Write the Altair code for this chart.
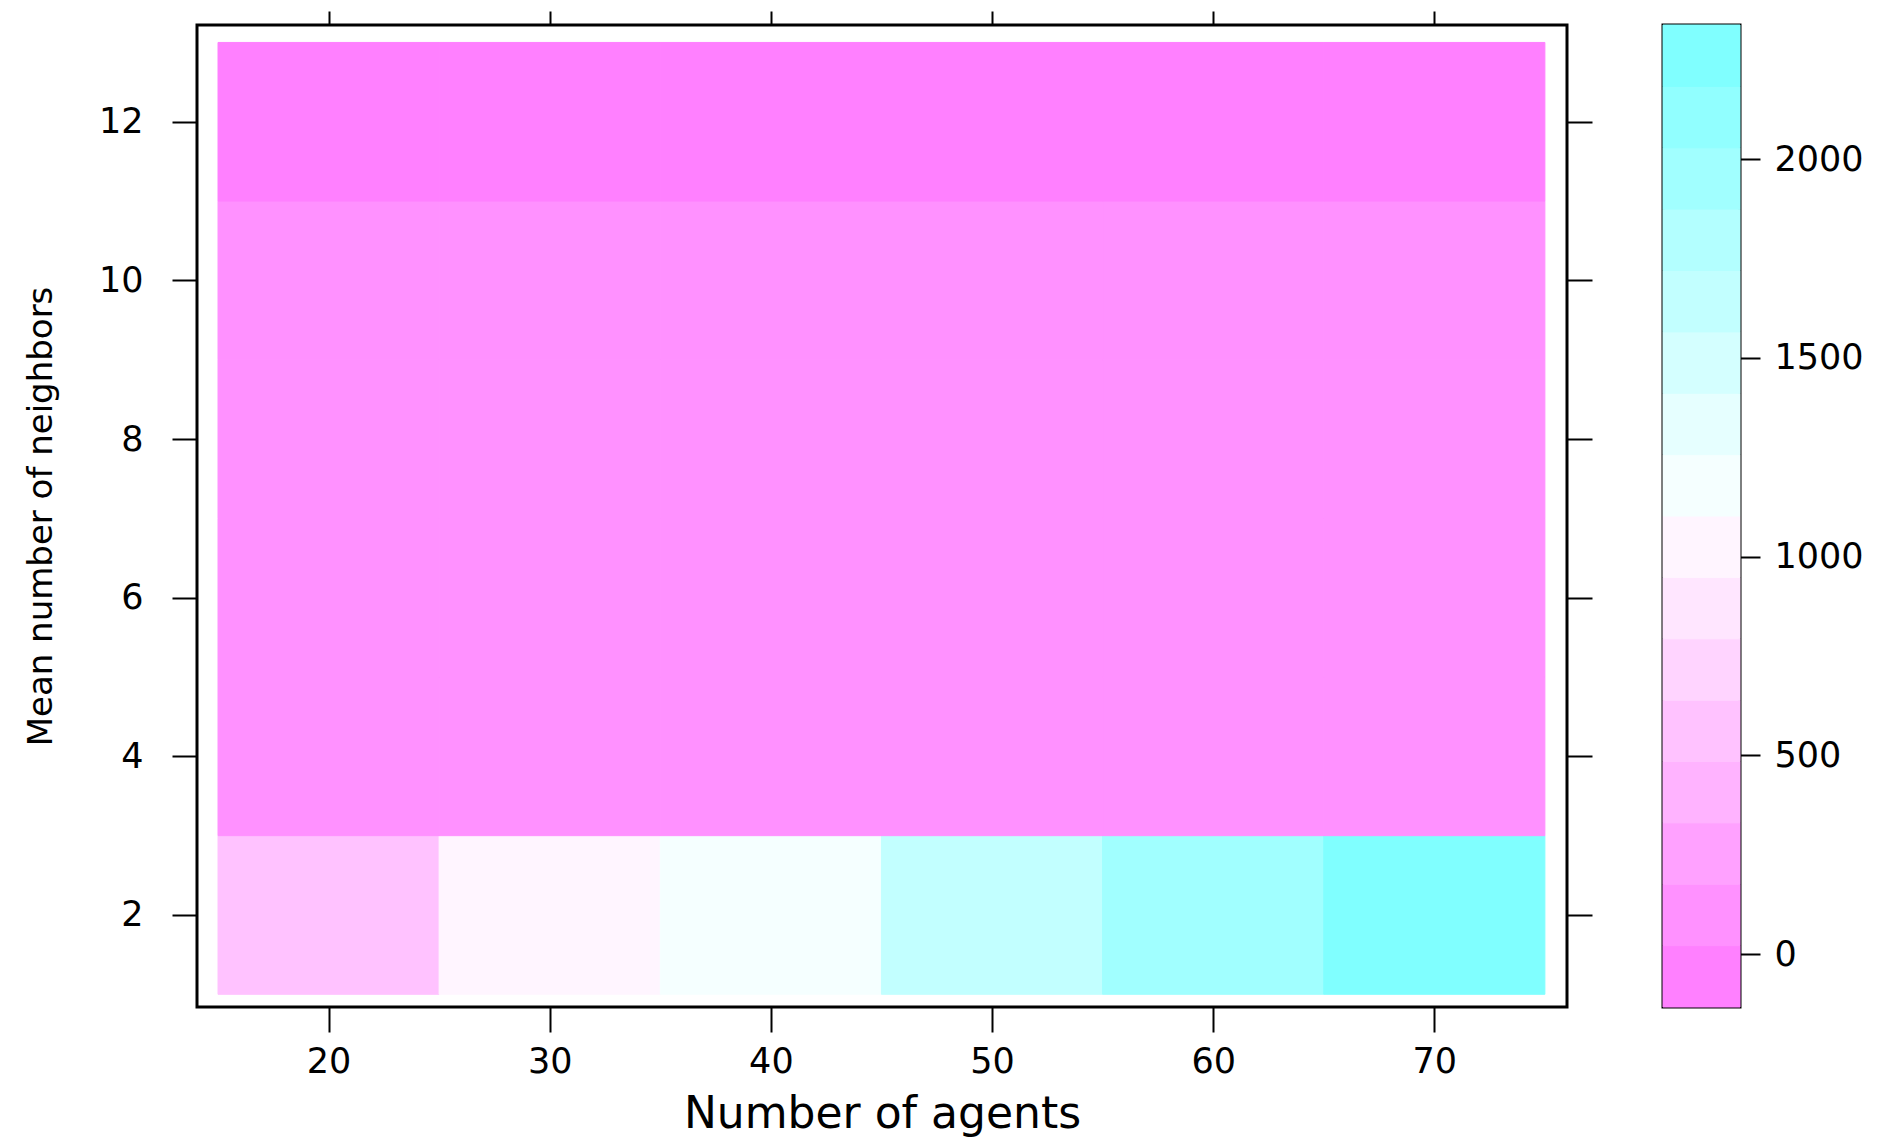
import altair as alt
import pandas as pd

# ---- data ----
agents = [20, 30, 40, 50, 60, 70]
neighbors = [2, 4, 6, 8, 10, 12]
# one list per neighbors value (rows), one entry per agents value (columns)
z_n2 = [570, 1030, 1190, 1650, 1960, 2185]
z_n4 = [100, 100, 100, 100, 100, 100]
z_n6 = [100, 100, 100, 100, 100, 100]
z_n8 = [100, 100, 100, 100, 100, 100]
z_n10 = [100, 100, 100, 100, 100, 100]
z_n12 = [10, 10, 10, 10, 10, 10]
rows = [z_n2, z_n4, z_n6, z_n8, z_n10, z_n12]

# colour-key breaks (16 bands) and lattice's rev(cm.colors) band colours
breaks = [-133.0, 21.4, 175.8, 330.2, 484.6, 639.0, 793.4, 947.8, 1102.2,
          1256.6, 1411.0, 1565.4, 1719.8, 1874.2, 2028.6, 2183.0, 2337.4]
band_colors = ["#FF80FF", "#FF91FF", "#FFA1FF", "#FFB3FF", "#FFC2FF", "#FFD4FF",
               "#FFE6FF", "#FFF5FF", "#F5FFFF", "#E6FFFF", "#D4FFFF", "#C2FFFF",
               "#B3FFFF", "#A1FFFF", "#91FFFF", "#80FFFF"]
x_ticks = [20, 30, 40, 50, 60, 70]
y_ticks = [2, 4, 6, 8, 10, 12]
key_ticks = [0, 500, 1000, 1500, 2000]

cells = pd.DataFrame(
    [{"agents": a, "neighbors": n, "z": r[j]}
     for n, r in zip(neighbors, rows) for j, a in enumerate(agents)]
)
key_df = pd.DataFrame({"lo": breaks[:-1], "hi": breaks[1:]})

FONT = "DejaVu Sans"
color_scale = alt.Scale(type="threshold", domain=breaks[1:-1], range=band_colors)
xs = alt.Scale(domain=[14.05, 76.0], nice=False, zero=False)
ys = alt.Scale(domain=[0.84, 13.22], nice=False, zero=False)

base = alt.Chart(cells).transform_calculate(
    x0="datum.agents - 5", x1="datum.agents + 5",
    y0="datum.neighbors - 1", y1="datum.neighbors + 1",
)

heat = base.mark_rect(strokeWidth=1).encode(
    x=alt.X("x0:Q", scale=xs,
            axis=alt.Axis(orient="bottom", values=x_ticks, title="Number of agents",
                          tickSize=25, labelPadding=12, labelFontSize=35,
                          titleFontSize=44, titlePadding=13)),
    x2="x1:Q",
    y=alt.Y("y0:Q", scale=ys,
            axis=alt.Axis(orient="left", values=y_ticks, title="Mean number of neighbors",
                          tickSize=25, labelPadding=29, labelFontSize=35,
                          titleFontSize=34, titlePadding=40)),
    y2="y1:Q",
    color=alt.Color("z:Q", scale=color_scale, legend=None),
    stroke=alt.Stroke("z:Q", scale=color_scale, legend=None),
)

frame_ticks = base.mark_rect(opacity=0).encode(
    x=alt.X("x0:Q", scale=xs,
            axis=alt.Axis(orient="top", values=x_ticks, labels=False, title=None, tickSize=14)),
    x2="x1:Q",
    y=alt.Y("y0:Q", scale=ys,
            axis=alt.Axis(orient="right", values=y_ticks, labels=False, title=None, tickSize=25)),
    y2="y1:Q",
)

heatmap = alt.layer(heat, frame_ticks).resolve_axis(
    x="independent", y="independent"
).properties(width=1370, height=982)

key = alt.Chart(key_df).transform_calculate(
    k0="0", k1="1", z="(datum.lo + datum.hi) / 2"
).mark_rect(strokeWidth=1).encode(
    x=alt.X("k0:Q", scale=alt.Scale(domain=[0, 1], nice=False, zero=False),
            axis=alt.Axis(orient="top", values=[0.5], labels=False, title=None,
                          tickSize=14, tickOpacity=0)),
    x2="k1:Q",
    y=alt.Y("lo:Q", scale=alt.Scale(domain=[breaks[0], breaks[-1]], nice=False, zero=False),
            axis=alt.Axis(orient="right", values=key_ticks, title=None, format="d",
                          tickSize=20, labelPadding=14, labelFontSize=35)),
    y2="hi:Q",
    color=alt.Color("z:Q", scale=color_scale, legend=None),
    stroke=alt.Stroke("z:Q", scale=color_scale, legend=None),
).properties(width=77, height=982)

chart = alt.hconcat(heatmap, key, spacing=66).properties(
    padding={"left": 14, "top": 0, "right": 0, "bottom": 0}
).configure_view(
    stroke="black", strokeWidth=3
).configure_axis(
    grid=False, domain=False, tickColor="black", tickWidth=2,
    labelColor="black", labelFont=FONT, titleFont=FONT,
    titleColor="black", titleFontWeight="normal"
)

chart.save("out.html", embed_options={"renderer": "svg", "actions": False})
